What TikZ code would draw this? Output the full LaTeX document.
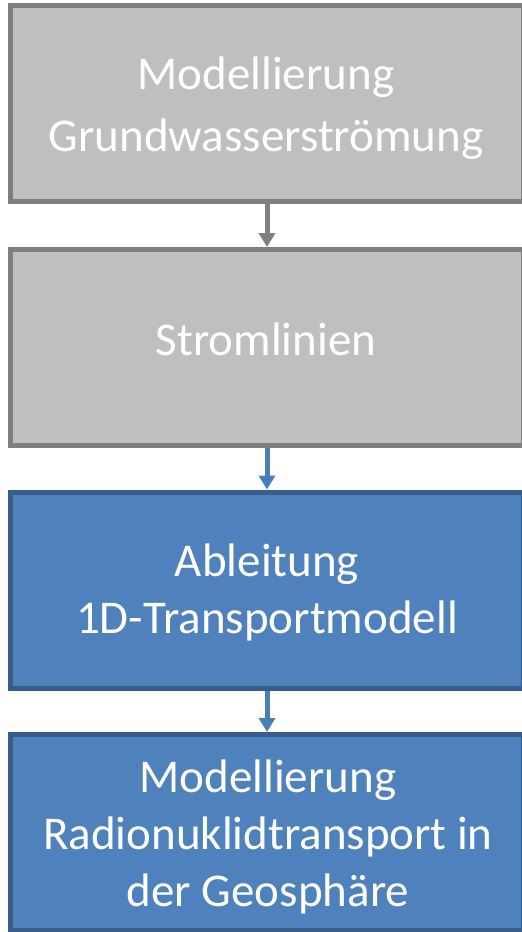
\documentclass[tikz,border=0pt]{standalone}
\usepackage{fontspec}
\setmainfont{Carlito}
\usetikzlibrary{arrows.meta}
\definecolor{grayfill}{HTML}{BFBFBF}
\definecolor{grayline}{HTML}{7F7F7F}
\definecolor{bluefill}{HTML}{4F81BD}
\definecolor{blueline}{HTML}{385D8A}
\definecolor{bluearrow}{HTML}{4A7EBB}
\begin{document}
\begin{tikzpicture}[x=1pt,y=-1pt,
  box/.style={draw, line width=5pt, minimum width=513pt, minimum height=196pt,
    inner sep=0pt},
  graybox/.style={box, fill=grayfill, draw=grayline},
  bluebox/.style={box, fill=bluefill, draw=blueline},
  label/.style={text=white, align=center, anchor=base, inner sep=0pt},
  conn/.style={line width=5pt, -{Triangle[width=16pt,length=14pt]}}]
\useasboundingbox (0,0) rectangle (522,932);
\clip (0,0) rectangle (522,932);
\node[graybox] (b1) at (267,103.5) {};
\node[graybox] (b2) at (267,347.5) {};
\node[bluebox] (b3) at (267,590) {};
\node[bluebox] (b4) at (267,832.5) {};
\node[label, font=\fontsize{47}{62.4}\selectfont] (t1) at (266,151.7) {Modellierung\\Grundwasserströmung};
\node[label, font=\fontsize{47}{57}\selectfont] (t2) at (266,355) {Stromlinien};
\node[label, font=\fontsize{47}{56.3}\selectfont] (t3) at (267,633) {Ableitung\\1D-Transportmodell};
\node[label, font=\fontsize{47}{57}\selectfont] (t4) at (268,906.7) {Modellierung\\Radionuklidtransport in\\der Geosphäre};
\draw[conn, grayline] (b1.south) -- (b2.north);
\draw[conn, bluearrow] (b2.south) -- (b3.north);
\draw[conn, bluearrow] (b3.south) -- (b4.north);
\end{tikzpicture}
\end{document}
